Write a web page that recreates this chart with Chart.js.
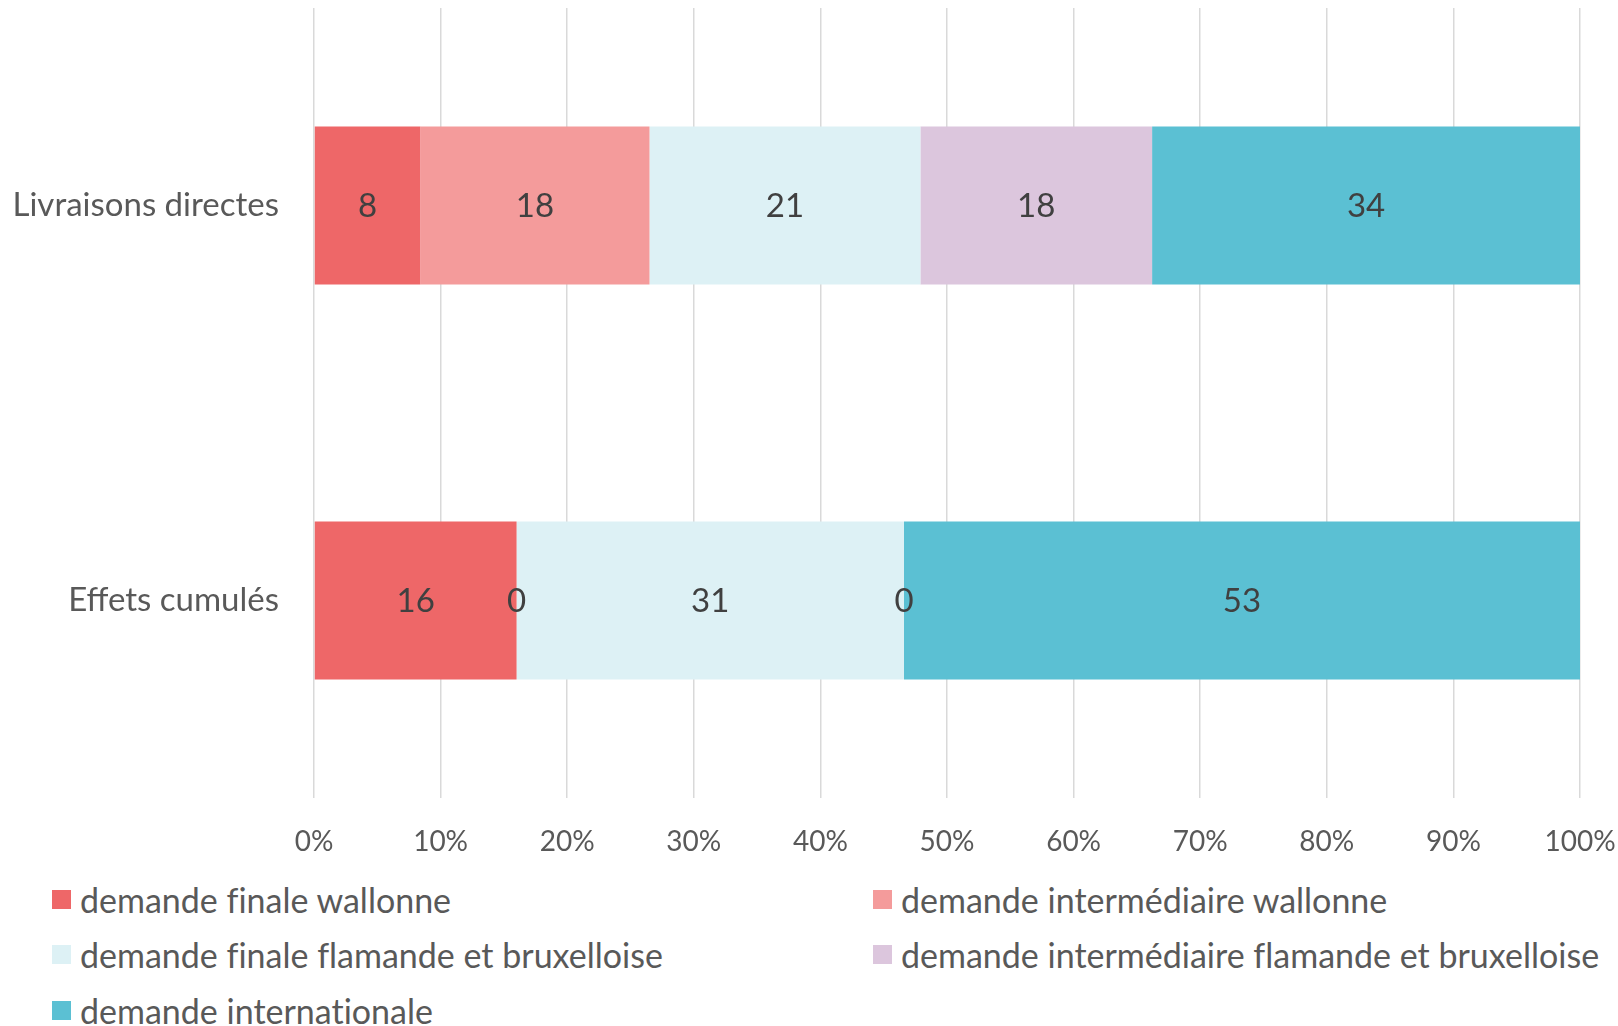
<!DOCTYPE html>
<html>
<head>
<meta charset="utf-8">
<script src="https://cdn.jsdelivr.net/npm/chart.js@4.4.1/dist/chart.umd.min.js"></script>
<style>
  html, body { margin: 0; padding: 0; background: #fff; }
  body { width: 1618px; height: 1026px; overflow: hidden; font-family: Lato, sans-serif; }
  #wrap { position: relative; width: 1618px; height: 870px; }
  #legend { position: relative; width: 1618px; height: 156px; }
  .item { position: absolute; display: flex; align-items: center; color: #595959; font-size: 34px; white-space: nowrap; font-variant-ligatures: none; }
  .swatch { width: 19px; height: 19px; margin-right: 9px; }
</style>
</head>
<body>
<div id="wrap"><canvas id="chart"></canvas></div>
<div id="legend"></div>
<script>
// Categories and series (share in %)
const categories = ['Livraisons directes', 'Effets cumulés'];
const seriesNames = [
  'demande finale wallonne',
  'demande intermédiaire wallonne',
  'demande finale flamande et bruxelloise',
  'demande intermédiaire flamande et bruxelloise',
  'demande internationale'
];
const finaleWallonne = [8.4, 16.0];
const interWallonne = [18.1, 0];
const finaleFlamande = [21.4, 30.6];
const interFlamande = [18.3, 0];
const internationale = [33.8, 53.4];
const seriesColors = ['#EE6768', '#F49B9B', '#DDF1F5', '#DCC6DD', '#5BC0D3'];
const tickLabels = ['0%', '10%', '20%', '30%', '40%', '50%', '60%', '70%', '80%', '90%', '100%'];

const seriesData = [finaleWallonne, interWallonne, finaleFlamande, interFlamande, internationale];

// Value labels drawn in the middle of each segment
const valueLabels = {
  id: 'valueLabels',
  afterDatasetsDraw(chart) {
    const ctx = chart.ctx;
    ctx.save();
    ctx.font = "33px Lato, sans-serif";
    ctx.fillStyle = '#404040';
    ctx.textAlign = 'center';
    ctx.textBaseline = 'middle';
    chart.data.datasets.forEach((ds, i) => {
      chart.getDatasetMeta(i).data.forEach((bar, j) => {
        const v = ds.data[j];
        if (v === null || v === undefined) return;
        ctx.fillText(Math.round(v), (bar.x + bar.base) / 2, bar.y + 1);
      });
    });
    ctx.restore();
  }
};

const ctx = document.getElementById('chart').getContext('2d');
const chart = new Chart(ctx, {
  type: 'bar',
  data: {
    labels: categories,
    datasets: seriesNames.map((name, i) => ({
      label: name,
      data: seriesData[i],
      backgroundColor: seriesColors[i],
      borderWidth: 0,
      categoryPercentage: 1,
      barPercentage: 0.4
    }))
  },
  options: {
    indexAxis: 'y',
    responsive: true,
    maintainAspectRatio: false,
    animation: false,
    layout: { padding: { top: 8, right: 38, left: 0, bottom: 0 } },
    plugins: {
      legend: { display: false },
      tooltip: { enabled: false }
    },
    scales: {
      x: {
        stacked: true,
        min: 0,
        max: 100,
        border: { display: false },
        grid: { color: '#D9D9D9', lineWidth: 1.5, drawTicks: false },
        ticks: {
          stepSize: 10,
          padding: 27,
          color: '#595959',
          font: { size: 28, family: 'Lato, sans-serif' },
          callback: (v, i) => tickLabels[i]
        },
        afterFit: (scale) => {
          scale.height = 72;
          scale.paddingLeft = 0;
          scale.paddingRight = 0;
        }
      },
      y: {
        stacked: true,
        border: { display: false },
        grid: { display: false, drawTicks: false },
        ticks: {
          padding: 35,
          color: '#595959',
          font: { size: 33, family: 'Lato, sans-serif' }
        },
        afterFit: (scale) => {
          scale.width = 314;
          scale.paddingTop = 0;
          scale.paddingBottom = 0;
        }
      }
    }
  },
  plugins: [valueLabels]
});

// Legend in two columns, as in the original
const legendPos = [[52, 29], [873, 29], [52, 84], [873, 84], [52, 140]];
const legend = document.getElementById('legend');
seriesNames.forEach((name, i) => {
  const item = document.createElement('div');
  item.className = 'item';
  item.style.left = legendPos[i][0] + 'px';
  item.style.top = (legendPos[i][1] - 20) + 'px';
  item.innerHTML = '<span class="swatch" style="background:' + seriesColors[i] + '"></span>' + name;
  legend.appendChild(item);
});
</script>
</body>
</html>
